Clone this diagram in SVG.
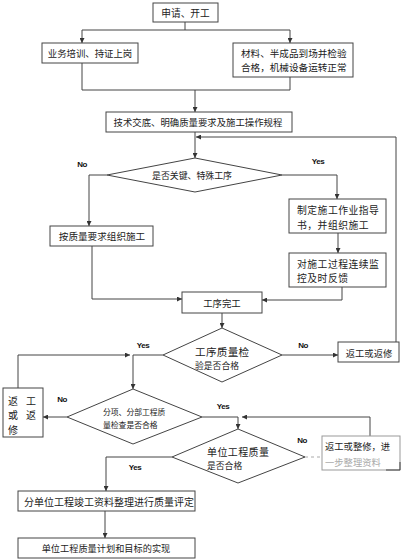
<svg xmlns="http://www.w3.org/2000/svg" width="404" height="560" viewBox="0 0 404 560">
<defs>
<marker id="ah" viewBox="0 0 6 6" refX="6" refY="3" markerWidth="5" markerHeight="5" markerUnits="userSpaceOnUse" orient="auto">
<path d="M0,0 L6,3 L0,6 z" fill="#333"/>
</marker>
<style>
.box{fill:#fff;stroke:#444;stroke-width:1}
.dia{fill:#fff;stroke:#444;stroke-width:1}
.t{font-family:"Noto Sans CJK SC","Liberation Sans",sans-serif;fill:#222;dominant-baseline:central}
.c{text-anchor:middle}
.lbl{font-family:"Liberation Sans",Arial,sans-serif;font-weight:bold;font-size:8px;fill:#111;letter-spacing:-0.5px;text-anchor:middle;dominant-baseline:central}
.ln{fill:none;stroke:#444;stroke-width:1}
</style>
</defs>
<rect width="404" height="560" fill="#fff"/>

<g id="connectors">
<path class="ln" d="M185,22 V30 H82 V43" marker-end="url(#ah)"/>
<path class="ln" d="M185,30 H290 V43" marker-end="url(#ah)"/>
<path class="ln" d="M82,63 V90 H290 V77"/>
<path class="ln" d="M195,90 V112" marker-end="url(#ah)"/>
<path class="ln" d="M195,132 V158" marker-end="url(#ah)"/>
<path class="ln" d="M396,342 V137 H196" marker-end="url(#ah)"/>
<path class="ln" d="M107,175 H89 V226" marker-end="url(#ah)"/>
<path class="ln" d="M282,175 H337 V199" marker-end="url(#ah)"/>
<path class="ln" d="M338,233 V253" marker-end="url(#ah)"/>
<path class="ln" d="M92,246 V299 H182" marker-end="url(#ah)"/>
<path class="ln" d="M342,287 V300 H262" marker-end="url(#ah)"/>
<path class="ln" d="M222,313 V328" marker-end="url(#ah)"/>
<path class="ln" d="M282,355 H338" marker-end="url(#ah)"/>
<path class="ln" d="M18,388 V355 H130" marker-end="url(#ah)"/>
<path class="ln" d="M163,355 H133 V389" marker-end="url(#ah)"/>
<path class="ln" d="M67,417 H43" marker-end="url(#ah)"/>
<path class="ln" d="M202,417 H238 V429" marker-end="url(#ah)"/>
<path class="ln" d="M370,436 V417 H242" marker-end="url(#ah)"/>
<path class="ln" d="M172,457 H106 V491" marker-end="url(#ah)"/>
<path d="M305,457 H322" fill="none" stroke="#aaa" stroke-width="1" stroke-dasharray="3,3"/>
<path class="ln" d="M105,511 V538" marker-end="url(#ah)"/>
</g>

<g id="n-start">
<rect class="box" x="153" y="3" width="65" height="19"/>
<text class="t c" x="185.5" y="12.5" style="font-size:9.7px">申请、开工</text>
</g>
<g id="n-train">
<rect class="box" x="42" y="43" width="96" height="20"/>
<text class="t c" x="90" y="53" style="font-size:9.4px">业务培训、持证上岗</text>
</g>
<g id="n-material">
<rect class="box" x="233" y="43" width="120" height="34"/>
<text class="t" x="241" y="53.3" style="font-size:9.6px">材料、半成品到场并检验</text>
<text class="t" x="241" y="67.4" style="font-size:9.6px">合格，机械设备运转正常</text>
</g>
<g id="n-tech">
<rect class="box" x="106" y="112" width="186" height="20"/>
<text class="t c" x="198" y="122" style="font-size:9.4px">技术交底、明确质量要求及施工操作规程</text>
</g>
<g id="d-key">
<polygon class="dia" points="195,158 282,175 195,192 107,175"/>
<text class="t c" x="192" y="175" style="font-size:8.9px">是否关键、特殊工序</text>
</g>
<text class="lbl" x="82" y="164">No</text>
<text class="lbl" x="318" y="161">Yes</text>
<g id="n-normal">
<rect class="box" x="50" y="226" width="103" height="20"/>
<text class="t c" x="102" y="236" style="font-size:9.6px">按质量要求组织施工</text>
</g>
<g id="n-guide">
<rect class="box" x="289" y="199" width="97" height="34"/>
<text class="t" x="297" y="209.5" style="font-size:9.8px;letter-spacing:0.5px">制定施工作业指导</text>
<text class="t" x="297" y="224.5" style="font-size:9.8px;letter-spacing:0.5px">书，并组织施工</text>
</g>
<g id="n-monitor">
<rect class="box" x="289" y="253" width="97" height="34"/>
<text class="t" x="297" y="263.5" style="font-size:9.8px;letter-spacing:0.5px">对施工过程连续监</text>
<text class="t" x="297" y="277.8" style="font-size:9.8px;letter-spacing:0.5px">控及时反馈</text>
</g>
<g id="n-done">
<rect class="box" x="182" y="292" width="80" height="21"/>
<text class="t c" x="222" y="302.5" style="font-size:9.4px">工序完工</text>
</g>
<g id="d-proc">
<polygon class="dia" points="222,328 282,355 222,382 163,355"/>
<text class="t" x="195" y="351" style="font-size:10.6px;letter-spacing:0.3px">工序质量检</text>
<text class="t" x="195" y="365.5" style="font-size:8.8px">验是否合格</text>
</g>
<text class="lbl" x="303" y="345">No</text>
<text class="lbl" x="143" y="345">Yes</text>
<g id="n-rework1">
<rect class="box" x="338" y="342" width="61" height="20"/>
<text class="t c" x="369" y="352.5" style="font-size:9.3px">返工或返修</text>
</g>
<g id="d-part">
<polygon class="dia" points="133,389 202,417 133,444 67,417"/>
<text class="t" x="103" y="411.5" style="font-size:7.8px">分项、分部工程质</text>
<text class="t" x="103" y="424" style="font-size:7.8px">量检查是否合格</text>
</g>
<text class="lbl" x="62" y="399">No</text>
<text class="lbl" x="223" y="406">Yes</text>
<g id="n-rework2">
<rect class="box" x="3" y="388" width="40" height="49"/>
<text class="t c" x="13" y="400" style="font-size:10px">返</text>
<text class="t c" x="31" y="400" style="font-size:10px">工</text>
<text class="t c" x="13" y="414.5" style="font-size:10px">或</text>
<text class="t c" x="31" y="414.5" style="font-size:10px">返</text>
<text class="t c" x="13" y="429" style="font-size:10px">修</text>
</g>
<g id="d-unit">
<polygon class="dia" points="238,429 305,457 238,483 172,457"/>
<text class="t" x="207" y="451" style="font-size:10px;letter-spacing:0.4px">单位工程质量</text>
<text class="t" x="207" y="465.5" style="font-size:8.8px">是否合格</text>
</g>
<text class="lbl" x="302" y="440">No</text>
<text class="lbl" x="135" y="467">Yes</text>
<g id="n-rework3">
<rect x="322" y="436" width="78" height="34" fill="#fff" stroke="#999" stroke-width="1"/>
<path d="M386,470 H400 V462" fill="none" stroke="#444" stroke-width="1"/>
<text class="t" x="325" y="445.5" style="font-size:9.3px">返工或整修，进</text>
<text class="t" x="325" y="461.5" style="font-size:9.3px;fill:#aaa">一步整理资料</text>
</g>
<g id="n-eval">
<rect class="box" x="18" y="491" width="177" height="20"/>
<text class="t c" x="109" y="501" style="font-size:10px">分单位工程竣工资料整理进行质量评定</text>
</g>
<g id="n-goal">
<rect class="box" x="18" y="538" width="177" height="20"/>
<text class="t c" x="106" y="548" style="font-size:9.2px">单位工程质量计划和目标的实现</text>
</g>
</svg>
